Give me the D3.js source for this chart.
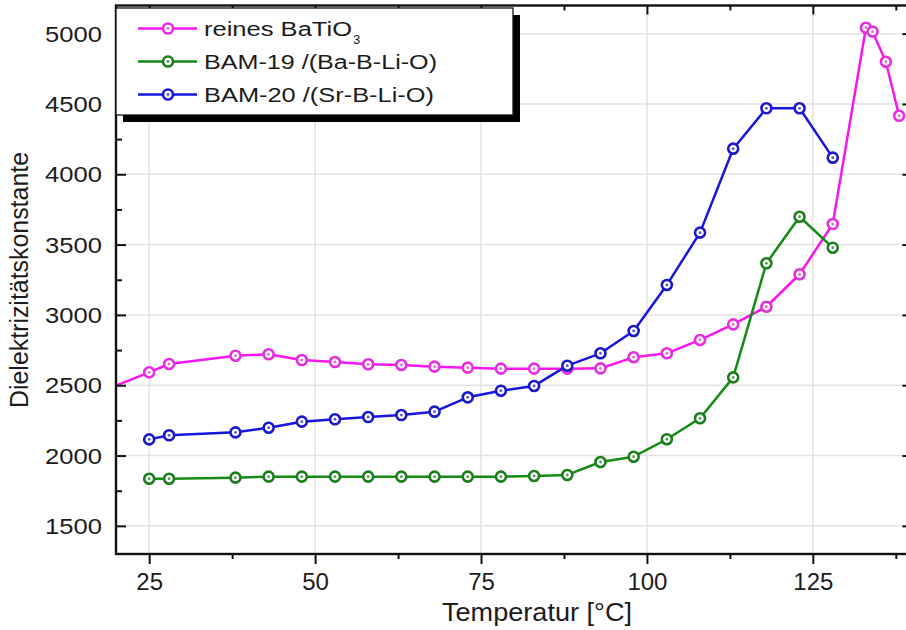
<!DOCTYPE html>
<html><head><meta charset="utf-8">
<script src="https://cdn.jsdelivr.net/npm/d3@7"></script>
<style>
body{margin:0;background:#fff}
svg{display:block}
text{font-family:"Liberation Sans",Arial,Helvetica,sans-serif;fill:#1c1c1c}
</style>
</head><body>
<svg id="chart" width="906" height="630"></svg>
<script>
// ---------- data ----------
const tempBaTiO3 = [18, 25, 28, 38, 43, 48, 53, 58, 63, 68, 73, 78, 83, 88, 93, 98, 103, 108, 113, 118, 123, 128, 133, 134, 136, 138];
const epsBaTiO3  = [2460, 2592, 2651, 2710, 2720, 2679, 2665, 2649, 2644, 2632, 2625, 2618, 2618, 2618, 2620, 2699, 2727, 2822, 2933, 3058, 3289, 3646, 5042, 5014, 4800, 4416];
const tempBAM    = [25, 28, 38, 43, 48, 53, 58, 63, 68, 73, 78, 83, 88, 93, 98, 103, 108, 113, 118, 123, 128];
const epsBAM19   = [1835, 1835, 1843, 1850, 1850, 1850, 1850, 1850, 1850, 1850, 1850, 1855, 1862, 1954, 1992, 2116, 2265, 2556, 3367, 3698, 3478];
const epsBAM20   = [2115, 2144, 2165, 2198, 2241, 2258, 2274, 2288, 2312, 2414, 2461, 2495, 2639, 2727, 2886, 3213, 3585, 4182, 4469, 4469, 4118];
const seriesNames = ["reines BaTiO", "BAM-19 /(Ba-B-Li-O)", "BAM-20 /(Sr-B-Li-O)"];
const xMajorTicks = [25, 50, 75, 100, 125];
const xMinorTicks = [37.5, 62.5, 87.5, 112.5, 137.5];
const yMajorTicks = [1500, 2000, 2500, 3000, 3500, 4000, 4500, 5000];
const yMinorTicks = [1750, 2250, 2750, 3250, 3750, 4250, 4750];
const xTitle = "Temperatur [°C]";
const yTitle = "Dielektrizitätskonstante";

// ---------- layout ----------
const svg = d3.select("#chart");
const L = 116, R = 912.4, T = 5.5, B = 554;
const x = d3.scaleLinear().domain([20, 140]).range([L, R]);
const y = d3.scaleLinear().domain([1300, 5200]).range([B, T]);

const series = [
  {name: seriesNames[0], color: "#f616ee", ring: "#e52ee0", data: tempBaTiO3.map((t,i)=>({t, v: epsBaTiO3[i]}))},
  {name: seriesNames[1], color: "#148a14", ring: "#1b7d1b", data: tempBAM.map((t,i)=>({t, v: epsBAM19[i]}))},
  {name: seriesNames[2], color: "#1616e0", ring: "#1a1ac8", data: tempBAM.map((t,i)=>({t, v: epsBAM20[i]}))}
];

svg.append("defs").append("clipPath").attr("id","plotclip")
  .append("rect").attr("x", L).attr("y", T).attr("width", R - L).attr("height", B - T);

// ---------- grid ----------
const grid = svg.append("g");
grid.selectAll(".gx").data(xMajorTicks).join("line")
  .attr("x1", d=>x(d)).attr("x2", d=>x(d)).attr("y1", T).attr("y2", B)
  .attr("stroke", "#e3e3e3").attr("stroke-width", 1.5);
grid.selectAll(".gy").data(yMajorTicks).join("line")
  .attr("y1", d=>y(d)).attr("y2", d=>y(d)).attr("x1", L).attr("x2", R)
  .attr("stroke", "#e3e3e3").attr("stroke-width", 1.5);

// ---------- series ----------
const plot = svg.append("g").attr("clip-path", "url(#plotclip)");
const line = d3.line().x(d=>x(d.t)).y(d=>y(d.v));
series.forEach(s => {
  plot.append("path").datum(s.data).attr("d", line)
    .attr("fill", "none").attr("stroke", s.color).attr("stroke-width", 2.5).attr("stroke-linejoin", "round");
  const m = plot.append("g").selectAll("g").data(s.data).join("g")
    .attr("transform", d=>`translate(${x(d.t)},${y(d.v)})`);
  m.append("circle").attr("r", 5).attr("fill", "#fff").attr("stroke", s.ring).attr("stroke-width", 2.6);
  m.append("circle").attr("r", 1.4).attr("fill", s.ring).attr("opacity", 0.75);
});

// ---------- axes ----------
function styleAxis(g){ g.select(".domain").remove(); g.selectAll(".tick line").attr("stroke","#111").attr("stroke-width",2); }

svg.append("g").attr("transform", `translate(0,${B})`)
  .call(d3.axisBottom(x).tickValues(xMajorTicks).tickSize(10).tickPadding(9).tickFormat(d3.format("d")))
  .call(styleAxis)
  .call(g => g.selectAll("text").attr("font-size", 24).attr("fill", "#1c1c1c"));
svg.append("g").attr("transform", `translate(0,${B})`)
  .call(d3.axisBottom(x).tickValues(xMinorTicks).tickSize(5).tickFormat(""))
  .call(styleAxis);

svg.append("g").attr("transform", `translate(0,${T})`)
  .call(d3.axisTop(x).tickValues(xMajorTicks).tickSize(-9).tickFormat("")).call(styleAxis);
svg.append("g").attr("transform", `translate(0,${T})`)
  .call(d3.axisTop(x).tickValues(xMinorTicks).tickSize(-5).tickFormat("")).call(styleAxis);

svg.append("g").attr("transform", `translate(${L},0)`)
  .call(d3.axisLeft(y).tickValues(yMajorTicks).tickSize(-10).tickPadding(14).tickFormat(d3.format("d")))
  .call(styleAxis)
  .call(g => g.selectAll("text").attr("font-size", 22).attr("fill", "#1c1c1c")
      .attr("dy", "0.34em").attr("textLength", 57).attr("lengthAdjust", "spacingAndGlyphs"));
svg.append("g").attr("transform", `translate(${L},0)`)
  .call(d3.axisLeft(y).tickValues(yMinorTicks).tickSize(-6).tickFormat("")).call(styleAxis);

svg.append("g").attr("transform", `translate(${R},0)`)
  .call(d3.axisRight(y).tickValues(yMajorTicks).tickSize(-10).tickFormat("")).call(styleAxis);
svg.append("g").attr("transform", `translate(${R},0)`)
  .call(d3.axisRight(y).tickValues(yMinorTicks).tickSize(-6).tickFormat("")).call(styleAxis);

// frame
svg.append("rect").attr("x", L).attr("y", T).attr("width", R - L).attr("height", B - T)
  .attr("fill", "none").attr("stroke", "#111").attr("stroke-width", 2.4);

// titles
svg.append("text").attr("x", 537).attr("y", 621).attr("text-anchor", "middle")
  .attr("font-size", 26).attr("textLength", 190).attr("lengthAdjust", "spacingAndGlyphs").text(xTitle);
svg.append("text").attr("transform", "translate(28,280) rotate(-90)").attr("text-anchor", "middle")
  .attr("font-size", 25).attr("textLength", 256).attr("lengthAdjust", "spacingAndGlyphs").text(yTitle);

// ---------- legend ----------
const lg = svg.append("g");
lg.append("rect").attr("x", 123).attr("y", 15).attr("width", 397).attr("height", 107).attr("fill", "#000");
lg.append("rect").attr("x", 116).attr("y", 8).attr("width", 397).attr("height", 107)
  .attr("fill", "#fff").attr("stroke", "#111").attr("stroke-width", 1.3);
const rowY = [28.5, 61.5, 94.5];
const textLens = [148, 233, 230];
series.forEach((s, i) => {
  const cy = rowY[i];
  lg.append("line").attr("x1", 138).attr("x2", 197).attr("y1", cy).attr("y2", cy)
    .attr("stroke", s.color).attr("stroke-width", 2.5);
  lg.append("circle").attr("cx", 168).attr("cy", cy).attr("r", 5).attr("fill", "#fff")
    .attr("stroke", s.ring).attr("stroke-width", 2.6);
  lg.append("circle").attr("cx", 168).attr("cy", cy).attr("r", 1.4).attr("fill", s.ring).attr("opacity", 0.75);
  lg.append("text").attr("x", 204).attr("y", cy + 7.8).attr("font-size", 20)
    .attr("textLength", textLens[i]).attr("lengthAdjust", "spacingAndGlyphs").text(s.name);
});
lg.append("text").attr("x", 353).attr("y", 43.5).attr("font-size", 13).text("3");
</script>
</body></html>
